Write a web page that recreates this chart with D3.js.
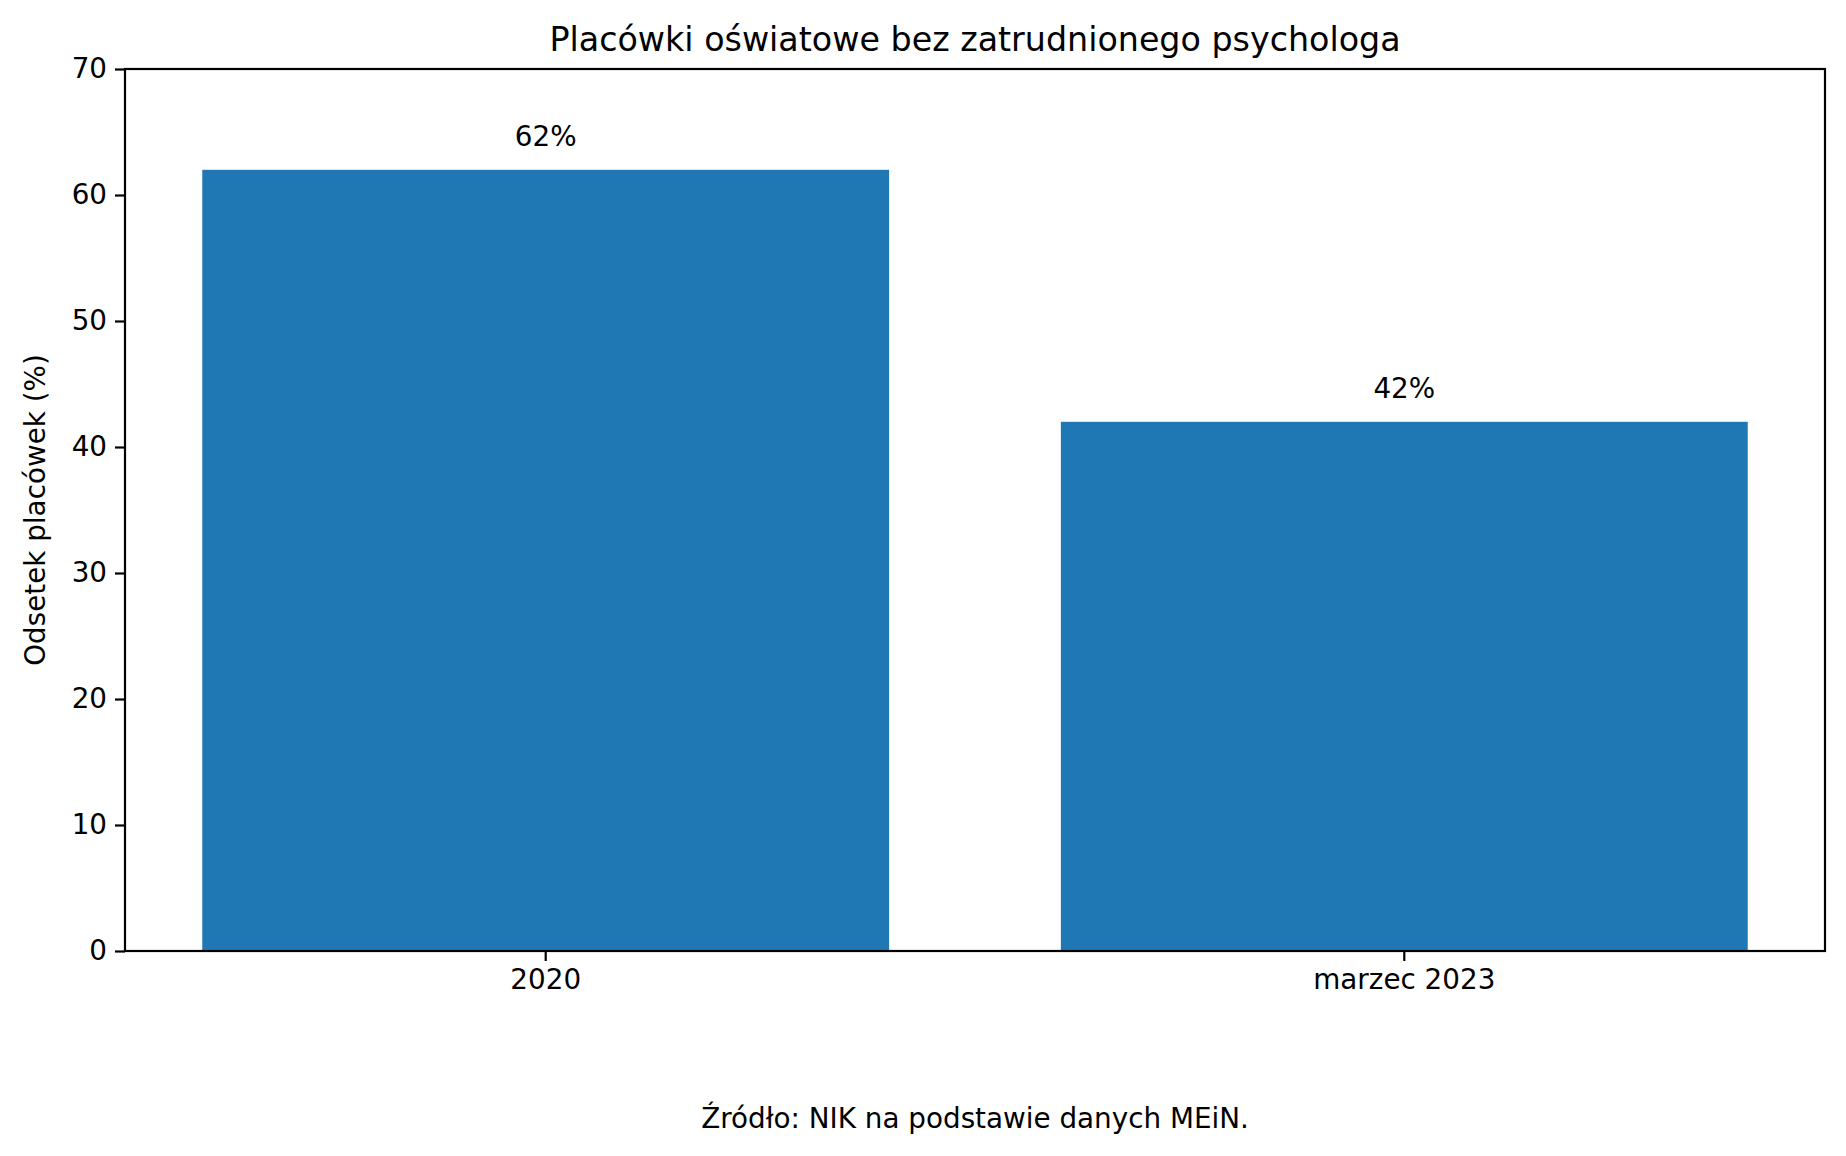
<!DOCTYPE html>
<html><head><meta charset="utf-8">
<script src="https://cdn.jsdelivr.net/npm/d3@7"></script>
<style>body{margin:0;background:#fff}text{font-family:"DejaVu Sans";}</style>
</head><body>
<script>
const categories = ["2020", "marzec 2023"];
const values = [62, 42];
const labels = ["62%", "42%"];
const yTicks = [0,10,20,30,40,50,60,70];

const W=1846,H=1156, L=125,R=1825,T=69,B=951;
const svg=d3.select("body").append("svg").attr("width",W).attr("height",H);
const x=d3.scaleBand().domain(categories).range([L,R]).paddingInner(0.2).paddingOuter(0.09);
const y=d3.scaleLinear().domain([0,70]).range([B,T]);

svg.selectAll("rect.bar").data(values).join("rect").attr("class","bar")
 .attr("x",(d,i)=>x(categories[i])).attr("width",x.bandwidth())
 .attr("y",d=>y(d)).attr("height",d=>B-y(d)).attr("fill","#1f77b4");
svg.selectAll("text.val").data(values).join("text").attr("class","val")
 .attr("x",(d,i)=>x(categories[i])+x.bandwidth()/2).attr("y",d=>y(d)-24)
 .attr("text-anchor","middle").attr("font-size",27.8).text((d,i)=>labels[i]);

const ax=svg.append("g").attr("transform",`translate(0,${B})`)
 .call(d3.axisBottom(x).tickSize(10).tickPadding(8));
const ay=svg.append("g").attr("transform",`translate(${L},0)`)
 .call(d3.axisLeft(y).tickValues(yTicks).tickSize(10).tickPadding(8));
[ax,ay].forEach(g=>{g.select(".domain").remove();g.selectAll("line").attr("stroke","#000").attr("stroke-width",2.2);
 g.selectAll("text").attr("font-size",27.8).attr("fill","#000").attr("font-family","DejaVu Sans");});
svg.append("rect").attr("x",L).attr("y",T).attr("width",R-L).attr("height",B-T)
 .attr("fill","none").attr("stroke","#000").attr("stroke-width",2.2);

svg.append("text").attr("x",(L+R)/2).attr("y",51).attr("text-anchor","middle").attr("font-size",33.3)
 .text("Placówki oświatowe bez zatrudnionego psychologa");
svg.append("text").attr("transform",`translate(45,${(T+B)/2}) rotate(-90)`).attr("text-anchor","middle")
 .attr("font-size",27.8).text("Odsetek placówek (%)");
svg.append("text").attr("x",975).attr("y",1128).attr("text-anchor","middle").attr("font-size",27.8)
 .text("Źródło: NIK na podstawie danych MEiN.");
</script></body></html>
